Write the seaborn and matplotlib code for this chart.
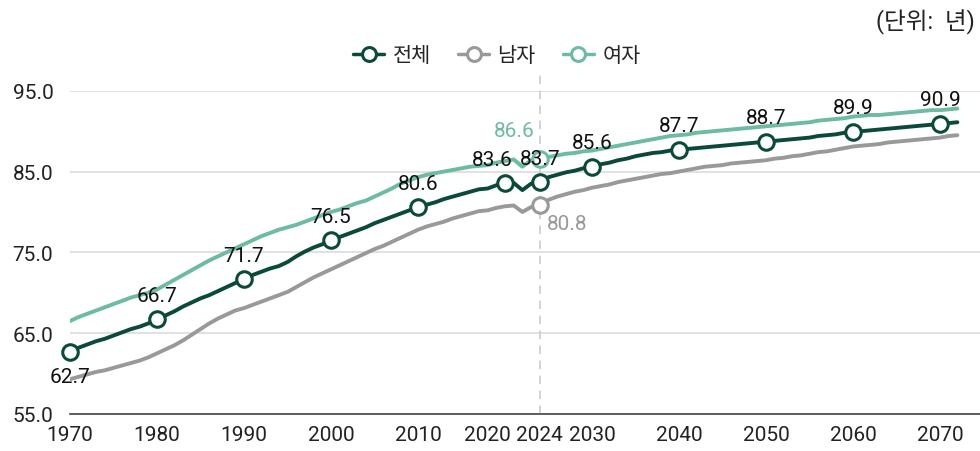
import matplotlib
matplotlib.use("Agg")
import matplotlib.pyplot as plt
import seaborn as sns
import pandas as pd
from matplotlib.lines import Line2D
from matplotlib.transforms import ScaledTranslation

# life expectancy (years), 1970-2072
years = list(range(1970, 2073))

total = [62.7, 63.2, 63.6, 64.0, 64.3, 64.7, 65.1, 65.5, 65.8, 66.2,
         66.7, 67.2, 67.7, 68.3, 68.8, 69.3, 69.7, 70.2, 70.7, 71.2,
         71.7, 72.2, 72.6, 73.0, 73.3, 73.8, 74.5, 75.1, 75.6, 76.0,
         76.5, 76.9, 77.3, 77.7, 78.1, 78.6, 79.0, 79.4, 79.8, 80.2,
         80.6, 80.9, 81.2, 81.6, 81.9, 82.2, 82.5, 82.8, 82.9, 83.3,
         83.6, 83.6, 82.7, 83.5, 83.7, 84.3, 84.6, 84.9, 85.1, 85.4,
         85.6, 85.9, 86.1, 86.4, 86.6, 86.9, 87.1, 87.3, 87.4, 87.6,
         87.7, 87.8, 87.9, 88.0, 88.1, 88.2, 88.3, 88.4, 88.5, 88.6,
         88.7, 88.8, 88.9, 89.0, 89.1, 89.2, 89.4, 89.5, 89.6, 89.8,
         89.9, 90.0, 90.1, 90.2, 90.3, 90.4, 90.5, 90.6, 90.7, 90.8,
         90.9, 91.0, 91.1]

male = [59.3, 59.6, 59.9, 60.2, 60.4, 60.7, 61.0, 61.3, 61.6, 62.0,
        62.5, 63.0, 63.5, 64.1, 64.8, 65.5, 66.2, 66.8, 67.3, 67.8,
        68.1, 68.5, 68.9, 69.3, 69.7, 70.1, 70.7, 71.3, 71.9, 72.4,
        72.9, 73.4, 73.9, 74.4, 74.9, 75.4, 75.8, 76.3, 76.8, 77.3,
        77.8, 78.2, 78.5, 78.8, 79.2, 79.5, 79.8, 80.1, 80.2, 80.5,
        80.7, 80.8, 80.0, 80.6, 80.8, 81.5, 81.9, 82.2, 82.5, 82.7,
        83.0, 83.2, 83.4, 83.7, 83.9, 84.1, 84.3, 84.5, 84.7, 84.8,
        85.0, 85.2, 85.4, 85.6, 85.7, 85.8, 86.0, 86.1, 86.2, 86.3,
        86.4, 86.6, 86.7, 86.9, 87.0, 87.2, 87.4, 87.5, 87.7, 87.9,
        88.1, 88.2, 88.3, 88.4, 88.6, 88.7, 88.8, 88.9, 89.0, 89.1,
        89.2, 89.4, 89.5]

female = [66.5, 67.0, 67.4, 67.8, 68.2, 68.6, 69.0, 69.4, 69.7, 70.0,
          70.4, 71.0, 71.6, 72.2, 72.8, 73.4, 74.0, 74.5, 75.0, 75.5,
          76.0, 76.5, 77.0, 77.4, 77.8, 78.1, 78.4, 78.8, 79.2, 79.6,
          80.0, 80.3, 80.7, 81.1, 81.4, 81.9, 82.4, 82.9, 83.5, 83.9,
          84.3, 84.6, 84.8, 85.0, 85.2, 85.4, 85.6, 85.7, 85.8, 86.1,
          86.3, 86.5, 85.6, 86.4, 86.6, 86.8, 87.0, 87.2, 87.3, 87.5,
          87.6, 87.8, 88.0, 88.2, 88.4, 88.6, 88.8, 89.0, 89.2, 89.4,
          89.5, 89.6, 89.8, 89.9, 90.0, 90.1, 90.2, 90.3, 90.4, 90.5,
          90.6, 90.7, 90.8, 90.9, 91.0, 91.1, 91.3, 91.4, 91.5, 91.6,
          91.8, 91.9, 92.0, 92.0, 92.1, 92.2, 92.3, 92.4, 92.5, 92.6,
          92.6, 92.7, 92.8]

series_names = ["전체", "남자", "여자"]
colors = {"전체": "#0b4a3b", "남자": "#999999", "여자": "#6dbba4"}

total_marks = [1970, 1980, 1990, 2000, 2010, 2020, 2024, 2030, 2040, 2050, 2060, 2070]
male_marks = [2024]
female_marks = [2024]

xtick_years = [1970, 1980, 1990, 2000, 2010, 2020, 2024, 2030, 2040, 2050, 2060, 2070]
yticks = [55, 65, 75, 85, 95]

df = pd.DataFrame({
    "year": years * 3,
    "value": total + male + female,
    "series": ["전체"] * len(years) + ["남자"] * len(years) + ["여자"] * len(years),
})

sns.set_style("white")
plt.rcParams["font.family"] = ["Roboto", "Noto Sans CJK KR", "DejaVu Sans"]

fig = plt.figure(figsize=(9.8, 4.52), dpi=100)
ax = fig.add_axes([0.0714, 0.082, 0.9286, 0.715])

sns.lineplot(data=df, x="year", y="value", hue="series", hue_order=["여자", "남자", "전체"],
             palette=colors, linewidth=2.8, legend=False, ax=ax)

# white circle markers
marks = {"전체": total_marks, "남자": male_marks, "여자": female_marks}
for name in ["여자", "남자", "전체"]:
    sub = df[(df["series"] == name) & (df["year"].isin(marks[name]))]
    sns.scatterplot(data=sub, x="year", y="value", color="white", edgecolor=colors[name],
                    linewidth=2.2, s=125, zorder=5, clip_on=False, legend=False, ax=ax)

# value labels
px = 0.72
for _, r in df[(df["series"] == "전체") & (df["year"].isin(total_marks))].iterrows():
    off = (0, 24 * px)
    if r["year"] == 1970:
        off = (0, -25 * px)
    elif r["year"] == 2020:
        off = (-13 * px, 23 * px)
    ax.annotate(f"{r['value']:.1f}", (r["year"], r["value"]), xytext=off, textcoords="offset points",
                ha="center", va="center", fontsize=15, color="#111111", zorder=6)
for name, off in [("여자", (-26 * px, 28 * px)), ("남자", (27 * px, -18 * px))]:
    r = df[(df["series"] == name) & (df["year"] == 2024)].iloc[0]
    ax.annotate(f"{r['value']:.1f}", (r["year"], r["value"]), xytext=off, textcoords="offset points",
                ha="center", va="center", fontsize=15, color=colors[name], zorder=6)

# 2024 divider
ax.axvline(2024, ymin=0, ymax=1.05, color="#cccccc", lw=1.2, ls=(0, (5, 4)), clip_on=False, zorder=1)

ax.set_xlim(1970, 2074.6)
ax.set_ylim(55, 95)
ax.set_xticks(xtick_years)
ax.set_xticklabels([str(y) for y in xtick_years])
ax.set_yticks(yticks)
ax.set_yticklabels([f"{v:.1f}" for v in yticks])
ax.tick_params(axis="both", length=0, labelsize=15, labelcolor="#222222")
ax.tick_params(axis="y", pad=12)
ax.tick_params(axis="x", pad=8)
ax.set_xlabel("")
ax.set_ylabel("")
ax.yaxis.grid(True, color="#dcdcdc", lw=1.2)
ax.set_axisbelow(True)
for s in ["left", "top", "right"]:
    ax.spines[s].set_visible(False)
ax.spines["bottom"].set_color("#444444")
ax.spines["bottom"].set_linewidth(1.2)

# nudge the 2020 label left so it clears 2024
fig.canvas.draw()
tick2020 = ax.xaxis.get_major_ticks()[xtick_years.index(2020)]
tick2020.label1.set_transform(tick2020.label1.get_transform()
                              + ScaledTranslation(-0.18, 0, fig.dpi_scale_trans))

handles = [Line2D([], [], color=colors[n], lw=2.5, marker="o", ms=10, mfc="white", mew=2.2)
           for n in series_names]
fig.legend(handles, series_names, loc="center", bbox_to_anchor=(0.507, 0.874), ncol=3,
           frameon=False, fontsize=15, handlelength=1.5, columnspacing=1.3, handletextpad=0.4)

fig.text(0.995, 0.951, "(단위:  년)", ha="right", va="center", fontsize=17, color="#222222")

fig.savefig("out.png", dpi=100)
